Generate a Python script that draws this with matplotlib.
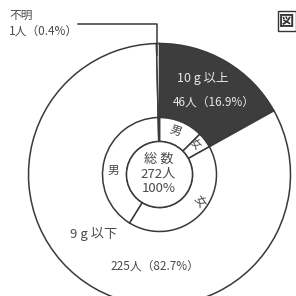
import matplotlib.pyplot as plt
from matplotlib.patches import Circle

plt.rcParams['font.family'] = ['Noto Sans CJK JP', 'DejaVu Sans']

# 外側: 10g以上, 9g以下, 不明 (人)
outer_labels = ['10 g 以上', '9 g 以下', '不明']
outer_counts = [46, 225, 1]
outer_pct = [16.9, 82.7, 0.4]

# 内側リング: 男女別 (10g以上 男/女, 9g以下 女/男, 不明)
ring_labels = ['男', '女', '女', '男', '']
ring_counts = [34, 12, 114, 111, 1]

total = 272

W = H = 296
cx, cy = 159.5, H - 174.5      # 円の中心 (画像座標を上下反転)
r_out, r_ring, r_in = 131, 57, 33

line_c = '#3a3a3a'
text_c = '#4a4a4a'

fig = plt.figure(figsize=(2.96, 2.96), dpi=100)
ax = fig.add_axes([0, 0, 1, 1])

ax.pie(outer_counts, startangle=90, counterclock=False, radius=r_out,
       center=(cx, cy), colors=['#3d3d3d', 'white', 'white'],
       wedgeprops=dict(edgecolor=line_c, linewidth=1.1))

ax.pie(ring_counts, startangle=90, counterclock=False, radius=r_ring,
       center=(cx, cy), colors=['white'] * len(ring_counts),
       wedgeprops=dict(width=r_ring - r_in, edgecolor=line_c, linewidth=1.1))

ax.add_patch(Circle((cx, cy), r_in, facecolor='white',
                    edgecolor=line_c, linewidth=1.1, zorder=5))

ax.set_xlim(0, W)
ax.set_ylim(0, H)
ax.set_aspect('equal')
ax.axis('off')

# 中央
ax.text(cx - 1, H - 159, '総 数', ha='center', va='center', fontsize=9.5, color=text_c, zorder=6)
ax.text(cx - 1, H - 174, f'{total}人', ha='center', va='center', fontsize=9.5, color=text_c, zorder=6)
ax.text(cx - 1, H - 189, '100%', ha='center', va='center', fontsize=9.5, color=text_c, zorder=6)

# リングの男女
ax.text(176, H - 131, ring_labels[0], ha='center', va='center', fontsize=8.5, color=text_c, rotation=-20)
ax.text(194, H - 144, ring_labels[1], ha='center', va='center', fontsize=8, color=text_c, rotation=-45)
ax.text(200, H - 201, ring_labels[2], ha='center', va='center', fontsize=8.5, color=text_c, rotation=-55)
ax.text(113, H - 170, ring_labels[3], ha='center', va='center', fontsize=8.5, color=text_c)

# 外側ラベル
ax.text(203, H - 78, outer_labels[0], ha='center', va='center', fontsize=9, color='#e8e8e8')
ax.text(214, H - 102, f'{outer_counts[0]}人（{outer_pct[0]}%）', ha='center', va='center',
        fontsize=8.5, color='#e8e8e8')
ax.text(94, H - 234, outer_labels[1], ha='center', va='center', fontsize=9.5, color=text_c)
ax.text(155, H - 266, f'{outer_counts[1]}人（{outer_pct[1]}%）', ha='center', va='center',
        fontsize=8.5, color=text_c)

# 不明 (引き出し線)
ax.text(9, H - 15, outer_labels[2], ha='left', va='center', fontsize=8.5, color=text_c)
ax.text(9, H - 31, f'{outer_counts[2]}人（{outer_pct[2]}%）', ha='left', va='center',
        fontsize=8.5, color=text_c)
ax.plot([78, 156.5, 156.5], [H - 24, H - 24, H - 55], color=line_c, linewidth=1.1)

# 図
ax.text(287, H - 21, '図', ha='center', va='center', fontsize=11, fontweight='bold',
        color='#333333', bbox=dict(boxstyle='square,pad=0.1', facecolor='none',
                                   edgecolor='#333333', linewidth=1.0))

fig.savefig('out.png', dpi=100, facecolor='white')
